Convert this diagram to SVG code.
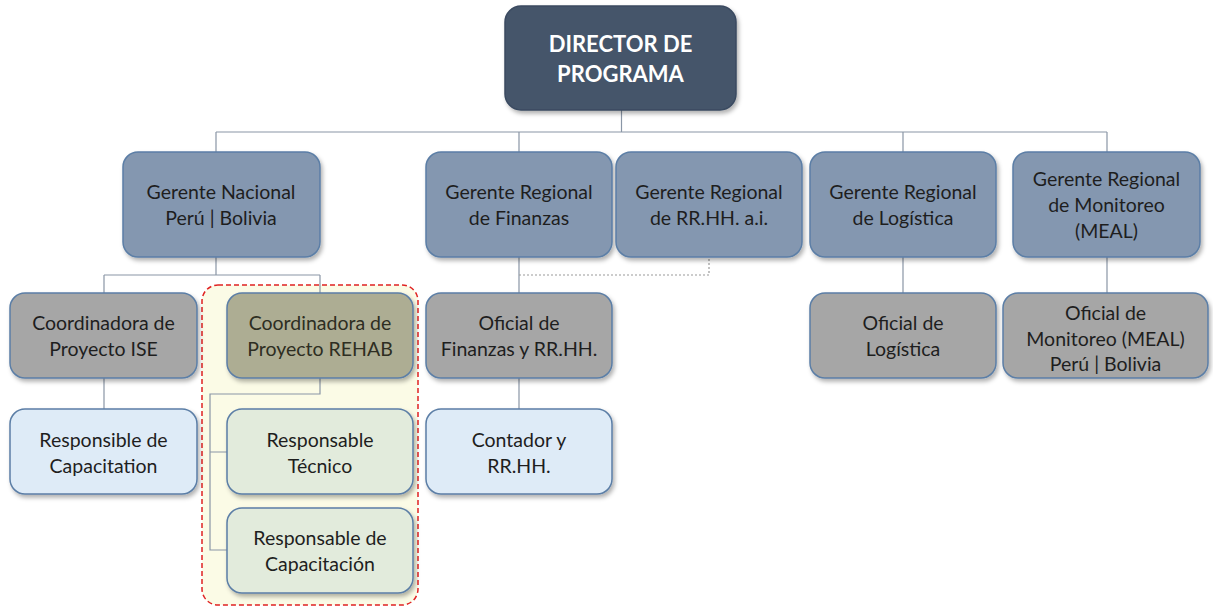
<svg xmlns="http://www.w3.org/2000/svg" width="1213" height="607" viewBox="0 0 1213 607">
<style>
text{font-family:Lato,"Open Sans","Liberation Sans",sans-serif;font-size:19.5px;fill:#1e1e1e;text-anchor:middle}
.dir text{fill:#ffffff;font-weight:bold;font-size:22px}
.n rect{stroke:#5b7ea6;stroke-width:1.5;filter:url(#sh)}
.dir rect{fill:#44546a;stroke:#3a4a60}
.mgr rect{fill:#8497b0}
.gry rect{fill:#a6a6a6}
.olv rect{fill:#adad93}
.lb rect{fill:#deebf7}
.lg rect{fill:#e2ebdc}
.c{fill:none;stroke:#8a96a6;stroke-width:1.2}
.dot{fill:none;stroke:#9a9a9a;stroke-width:1.2;stroke-dasharray:2 2}
</style>
<defs>
<filter id="sh" x="-10%" y="-10%" width="130%" height="130%">
<feDropShadow dx="2" dy="3" stdDeviation="2" flood-color="#000" flood-opacity="0.3"/>
</filter>
</defs>
<rect width="1213" height="607" fill="#ffffff"/>
<g id="rehab-group">
<rect x="202" y="285" width="216" height="320" rx="16" fill="#fbfbe6" stroke="#e02222" stroke-width="1.5" stroke-dasharray="5 3"/>
</g>
<g id="connectors">
<path class="c" d="M621.5 110V132M216 132H1107M216 132V152M519 132V152M903 132V152M1107 132V152"/>
<path class="c" d="M216 257V275M104 275H320M104 275V293M320 275V293"/>
<path class="c" d="M519 257V293M903 257V293M1107 257V293"/>
<path class="dot" d="M519 275H709V257"/>
<path class="c" d="M104 378V409M519 378V409"/>
<path class="c" d="M320 378V394H210V550H227M210 452H227"/>
</g>
<g id="director" class="n dir">
<rect x="505" y="6" width="231" height="104" rx="16"/>
<text x="620.5" y="52">DIRECTOR DE</text>
<text x="620.5" y="82">PROGRAMA</text>
</g>
<g id="gerente-nacional" class="n mgr">
<rect x="123" y="152" width="197" height="105" rx="15"/>
<text x="221" y="199">Gerente Nacional</text>
<text x="221" y="225">Perú | Bolivia</text>
</g>
<g id="gerente-finanzas" class="n mgr">
<rect x="426" y="152" width="186" height="105" rx="15"/>
<text x="519" y="199">Gerente Regional</text>
<text x="519" y="225">de Finanzas</text>
</g>
<g id="gerente-rrhh" class="n mgr">
<rect x="616" y="152" width="186" height="105" rx="15"/>
<text x="709" y="199">Gerente Regional</text>
<text x="709" y="225">de RR.HH. a.i.</text>
</g>
<g id="gerente-logistica" class="n mgr">
<rect x="810" y="152" width="186" height="105" rx="15"/>
<text x="903" y="199">Gerente Regional</text>
<text x="903" y="225">de Logística</text>
</g>
<g id="gerente-meal" class="n mgr">
<rect x="1013" y="152" width="187" height="105" rx="15"/>
<text x="1106.5" y="186">Gerente Regional</text>
<text x="1106.5" y="212">de Monitoreo</text>
<text x="1106.5" y="238">(MEAL)</text>
</g>
<g id="coord-ise" class="n gry">
<rect x="10" y="293" width="187" height="85" rx="15"/>
<text x="103.5" y="330">Coordinadora de</text>
<text x="103.5" y="356">Proyecto ISE</text>
</g>
<g id="coord-rehab" class="n olv">
<rect x="227" y="293" width="186" height="85" rx="15"/>
<text x="320" y="330" style="fill:#2e2e22">Coordinadora de</text>
<text x="320" y="356" style="fill:#2e2e22">Proyecto REHAB</text>
</g>
<g id="oficial-finanzas" class="n gry">
<rect x="426" y="293" width="186" height="85" rx="15"/>
<text x="519" y="330">Oficial de</text>
<text x="519" y="356">Finanzas y RR.HH.</text>
</g>
<g id="oficial-logistica" class="n gry">
<rect x="810" y="293" width="186" height="85" rx="15"/>
<text x="903" y="330">Oficial de</text>
<text x="903" y="356">Logística</text>
</g>
<g id="oficial-meal" class="n gry">
<rect x="1003" y="293" width="205" height="85" rx="15"/>
<text x="1105.5" y="320">Oficial de</text>
<text x="1105.5" y="346">Monitoreo (MEAL)</text>
<text x="1105.5" y="371">Perú | Bolivia</text>
</g>
<g id="resp-capacitation" class="n lb">
<rect x="10" y="409" width="187" height="85" rx="15"/>
<text x="103.5" y="447">Responsible de</text>
<text x="103.5" y="473">Capacitation</text>
</g>
<g id="resp-tecnico" class="n lg">
<rect x="227" y="409" width="186" height="85" rx="15"/>
<text x="320" y="447">Responsable</text>
<text x="320" y="473">Técnico</text>
</g>
<g id="contador" class="n lb">
<rect x="426" y="409" width="186" height="85" rx="15"/>
<text x="519" y="447">Contador y</text>
<text x="519" y="473">RR.HH.</text>
</g>
<g id="resp-capacitacion" class="n lg">
<rect x="227" y="508" width="186" height="85" rx="15"/>
<text x="320" y="545">Responsable de</text>
<text x="320" y="571">Capacitación</text>
</g>
</svg>
